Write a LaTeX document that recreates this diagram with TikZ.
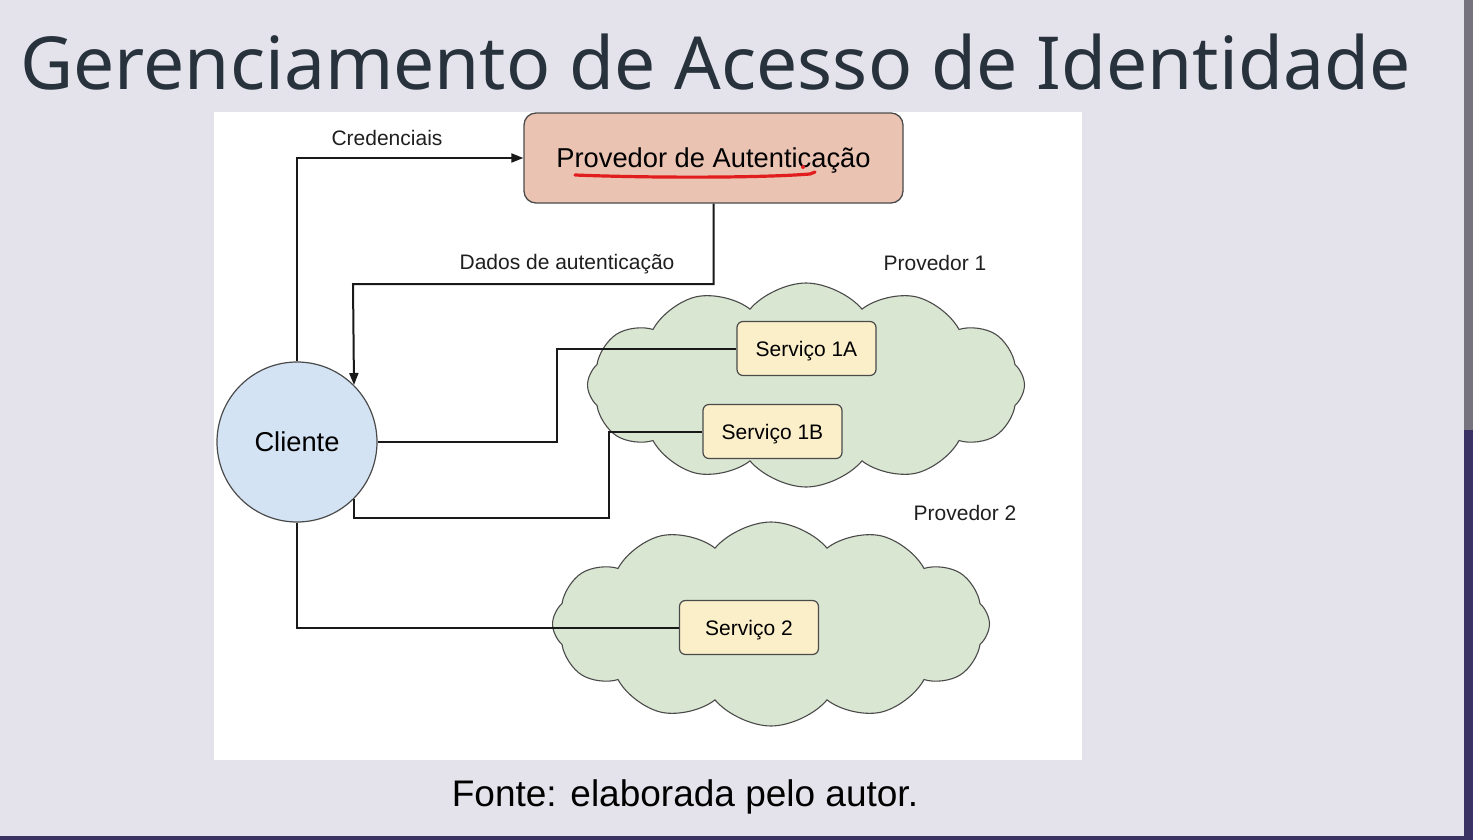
\documentclass[tikz,border=0pt]{standalone}
\usepackage{fontspec}
\setmainfont{Liberation Sans}
\newfontfamily\headfont{Noto Sans}
\usetikzlibrary{shapes.symbols,arrows.meta}

\definecolor{slidebg}{HTML}{E4E3EC}
\definecolor{edgegray}{HTML}{76727E}
\definecolor{edgedark}{HTML}{3A3263}
\definecolor{headcol}{HTML}{28323C}
\definecolor{authfill}{HTML}{EBC3B3}
\definecolor{clientfill}{HTML}{D3E3F3}
\definecolor{svcfill}{HTML}{FBEFC9}
\definecolor{cloudfill}{HTML}{D9E6D1}
\definecolor{edgeline}{HTML}{4A4A4A}
\definecolor{inkred}{HTML}{E21D1D}

\tikzset{
  lbl/.style={inner sep=0, anchor=base, text=black!88, font=\fontsize{21}{25}\selectfont},
  authbox/.style={draw=edgeline, line width=1.3pt, fill=authfill, rounded corners=12pt,
    minimum width=379pt, minimum height=90pt, inner sep=0,
    text height=26pt, text depth=6.4pt, font=\fontsize{27.3}{32}\selectfont},
  clientnode/.style={circle, draw=edgeline, line width=1.2pt, fill=clientfill,
    minimum size=160pt, inner sep=0,
    text height=26pt, text depth=6.4pt, font=\fontsize{27.3}{32}\selectfont},
  svcbox/.style={draw=edgeline, line width=1.2pt, fill=svcfill, rounded corners=6pt,
    minimum width=139pt, minimum height=54pt, inner sep=0,
    text height=20pt, text depth=5pt, font=\fontsize{21}{25}\selectfont},
  provcloud/.style={cloud, cloud puffs=12, cloud puff arc=100, cloud ignores aspect,
    minimum width=437pt, minimum height=204pt, inner sep=0,
    fill=cloudfill, draw=edgeline, line width=1.1pt},
  wire/.style={draw=black!90, line width=2pt},
  arr/.style={wire, -{Triangle[length=12pt,width=9pt]}},
}

\begin{document}
\begin{tikzpicture}[x=1pt,y=-1pt]
  \useasboundingbox (0,0) rectangle (1473,840);
  % slide background and its edges
  \fill[slidebg] (0,0) rectangle (1473,840);
  \fill[edgegray] (1464,0) rectangle (1473,430);
  \fill[edgedark] (1464,430) rectangle (1473,840);
  \fill[edgedark] (0,836) rectangle (1473,840);

  % heading
  \node[anchor=base west, inner sep=0, text=headcol] (head) at (20,90)
    {\resizebox{1390pt}{!}{\headfont Gerenciamento de Acesso de Identidade}};

  % figure panel
  \fill[white] (214,112) rectangle (1082,760);

  % provider clouds
  \node[provcloud] (cloudA) at (806,385) {};
  \node[provcloud] (cloudB) at (771,624) {};
  \node[lbl] (provA) at (935,270) {Provedor 1};
  \node[lbl] (provB) at (965,520) {Provedor 2};

  % main nodes
  \node[authbox] (auth) at (713.5,158) {Provedor de Autenticação};
  \node[clientnode] (cli) at (297,442) {Cliente};
  \node[svcbox] (s1a) at (806.5,348.5) {Serviço 1A};
  \node[svcbox] (s1b) at (772.5,431.5) {Serviço 1B};
  \node[svcbox] (s2) at (749,627.5) {Serviço 2};

  % bend points
  \coordinate (d1) at (353,284);
  \coordinate (k1) at (557,400);
  \coordinate (k2) at (609,518);

  % connectors
  \draw[arr] (cli.north) |- (auth.west);
  \draw[arr] (auth.south) |- (d1) -- (cli.45.6);
  \draw[wire] (cli.east) -| (k1) |- (s1a.west);
  \draw[wire] (cli.-45.6) |- (k2) |- (s1b.west);
  \draw[wire] (cli.south) |- (s2.west);

  % connector labels
  \node[lbl] (credlbl) at (387,146) {Credenciais};
  \node[lbl] (datalbl) at (567,269) {Dados de autenticação};

  % hand-drawn red underline
  \draw[inkred, line width=3.2pt, line cap=round]
    (575,175) .. controls (650,178) and (760,178) .. (810,174) -- (815,172);
  \fill[inkred] (803,167) circle (2pt);

  % caption
  \node[inner sep=0, anchor=base, font=\fontsize{37}{44}\selectfont] (cap) at (685,806)
    {Fonte: elaborada pelo autor.};
\end{tikzpicture}
\end{document}
